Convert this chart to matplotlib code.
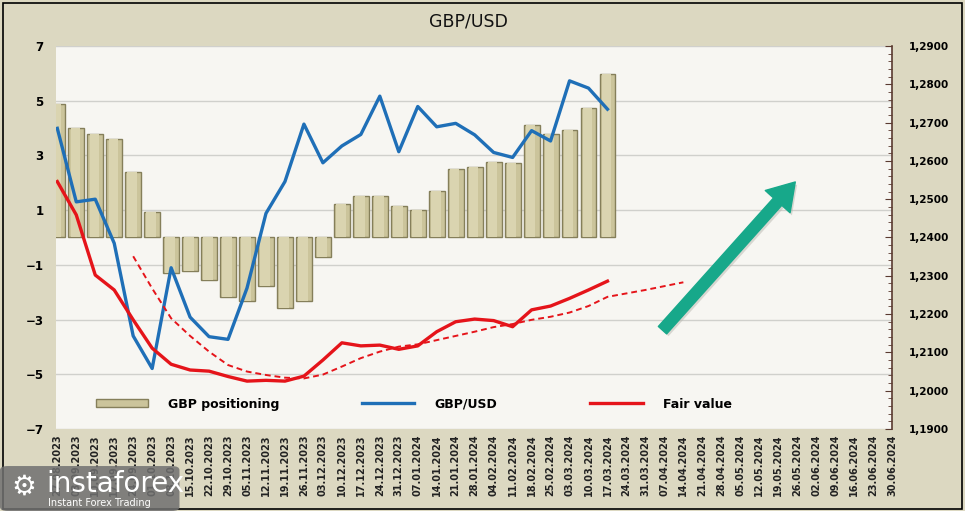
import matplotlib
matplotlib.use('Agg')
import matplotlib.pyplot as plt
import matplotlib.patches as patches
import matplotlib.ticker as mticker
from matplotlib.lines import Line2D
from matplotlib.legend import Legend
import numpy as np

# weekly categories
dates = ['27.08.2023', '03.09.2023', '10.09.2023', '17.09.2023', '24.09.2023', '01.10.2023',
         '08.10.2023', '15.10.2023', '22.10.2023', '29.10.2023', '05.11.2023', '12.11.2023',
         '19.11.2023', '26.11.2023', '03.12.2023', '10.12.2023', '17.12.2023', '24.12.2023',
         '31.12.2023', '07.01.2024', '14.01.2024', '21.01.2024', '28.01.2024', '04.02.2024',
         '11.02.2024', '18.02.2024', '25.02.2024', '03.03.2024', '10.03.2024', '17.03.2024',
         '24.03.2024', '31.03.2024', '07.04.2024', '14.04.2024', '21.04.2024', '28.04.2024',
         '05.05.2024', '12.05.2024', '19.05.2024', '26.05.2024', '02.06.2024', '09.06.2024',
         '16.06.2024', '23.06.2024', '30.06.2024']

# GBP net positioning, bn USD (left axis)
positioning = [4.88, 4.0, 3.78, 3.6, 2.41, 0.92, -1.28, -1.22, -1.56, -2.17, -2.31, -1.78,
               -2.56, -2.33, -0.71, 1.21, 1.53, 1.53, 1.14, 1.01, 1.71, 2.50, 2.57, 2.75,
               2.72, 4.11, 3.78, 3.94, 4.73, 5.96]

# GBP/USD weekly close (right axis)
gbpusd = [1.2685, 1.2493, 1.2500, 1.2385, 1.2143, 1.2058, 1.2321, 1.2192, 1.2141, 1.2134,
          1.2268, 1.2463, 1.2546, 1.2696, 1.2595, 1.2639, 1.2669, 1.2769, 1.2624, 1.2742,
          1.2689, 1.2698, 1.2668, 1.2622, 1.2609, 1.2679, 1.2652, 1.2809, 1.2790, 1.2735]

# fair value (right axis)
fair_value = [1.2546, 1.2459, 1.2302, 1.2263, 1.2185, 1.2111, 1.2069, 1.2054, 1.2051, 1.2037,
              1.2025, 1.2027, 1.2025, 1.2038, 1.2080, 1.2125, 1.2117, 1.2119, 1.2108, 1.2117,
              1.2154, 1.2180, 1.2187, 1.2183, 1.2167, 1.2211, 1.2221, 1.2241, 1.2263, 1.2286]

# fair value trend (dashed), starts at week 5
trend_start = 4
fair_trend = [1.2351, 1.2267, 1.2189, 1.2143, 1.2102, 1.2067, 1.2050, 1.2041, 1.2034, 1.2032,
              1.2042, 1.2063, 1.2085, 1.2102, 1.2115, 1.2121, 1.2132, 1.2143, 1.2154, 1.2166,
              1.2174, 1.2185, 1.2193, 1.2204, 1.2221, 1.2245, 1.2254, 1.2263, 1.2273, 1.2283]

legend_labels = ['GBP positioning', 'GBP/USD', 'Fair value']

BEIGE = '#DCD8C1'
PLOT_BG = '#F7F6F2'
BAR_FACE = '#CBC49B'
BAR_LIGHT = '#DAD4B0'
BAR_EDGE = '#857F5A'
BLUE = '#1F6FB7'
RED = '#E5141A'
TEAL = '#17A88A'

fig = plt.figure(figsize=(9.65, 5.11), dpi=100, facecolor=BEIGE)
ax = fig.add_axes([0.058, 0.1605, 0.8664, 0.7495])
ax.set_facecolor(PLOT_BG)

x = np.arange(len(dates))
xb = np.arange(len(positioning))

# bars, with a lighter inner strip for the bevel look
ax.bar(xb, positioning, width=0.84, color=BAR_FACE, edgecolor=BAR_EDGE, linewidth=1.0, zorder=2)
ax.bar(xb - 0.05, positioning, width=0.5, color=BAR_LIGHT, linewidth=0, zorder=2.1)

ax.set_ylim(-7, 7)
ax.set_yticks(np.arange(-7, 8, 2))
ax.set_xlim(-0.07, len(dates) - 1)
ax.grid(axis='y', color='#D0D0CC', linewidth=1.0, zorder=0)
ax.set_axisbelow(True)
for s in ax.spines.values():
    s.set_visible(False)
ax.tick_params(axis='y', length=0, pad=9, labelsize=8.5)
for lab in ax.get_yticklabels():
    lab.set_fontweight('bold')
ax.set_xticks(x)
ax.set_xticklabels(dates, rotation=90, fontsize=7, fontweight='bold', color='#222222')
ax.tick_params(axis='x', length=0, pad=4)

ax2 = ax.twinx()
ax2.set_ylim(1.19, 1.29)
ax2.plot(np.arange(len(gbpusd)), gbpusd, color=BLUE, linewidth=2.4, zorder=4)
ax2.plot(np.arange(len(fair_value)), fair_value, color=RED, linewidth=2.4, zorder=4)
ax2.plot(np.arange(trend_start, trend_start + len(fair_trend)), fair_trend, color=RED,
         linewidth=1.4, linestyle=(0, (3, 2)), zorder=4)
ax2.yaxis.set_major_locator(mticker.MultipleLocator(0.01))
ax2.yaxis.set_minor_locator(mticker.MultipleLocator(0.002))
ax2.yaxis.set_major_formatter(mticker.FuncFormatter(lambda v, p: f'{v:.4f}'.replace('.', ',')))
ax2.tick_params(axis='y', which='major', direction='in', length=5, pad=12, labelsize=7.5,
                color='#5A3A30')
ax2.tick_params(axis='y', which='minor', direction='in', length=3, color='#5A3A30')
for lab in ax2.get_yticklabels():
    lab.set_fontweight('bold')
for k, s in ax2.spines.items():
    s.set_visible(k == 'right')
ax2.spines['right'].set_color('#5A3A30')
ax2.spines['right'].set_linewidth(1.2)

# big green arrow (with a soft shadow)
ax2.annotate('', xy=(39.0, 1.2538), xytext=(32.0, 1.2152),
             arrowprops=dict(facecolor='#B8B8B0', edgecolor='none', width=8, headwidth=24,
                             headlength=19, shrink=0, alpha=0.5), zorder=4.9)
ax2.annotate('', xy=(38.9, 1.2545), xytext=(31.9, 1.2158),
             arrowprops=dict(facecolor=TEAL, edgecolor=TEAL, width=8, headwidth=24,
                             headlength=19, shrink=0, capstyle='round'), zorder=5)

# legend, one entry at a time to match the uneven spacing
handles = [patches.Patch(facecolor=BAR_FACE, edgecolor=BAR_EDGE, linewidth=1.0),
           Line2D([], [], color=BLUE, linewidth=2.4),
           Line2D([], [], color=RED, linewidth=2.4)]
anchors = [0.0478, 0.366, 0.639]
for h, lab, xa in zip(handles, legend_labels, anchors):
    leg = Legend(ax2, [h], [lab], loc='center left', bbox_to_anchor=(xa, 0.065), frameon=False,
                 prop={'size': 9, 'weight': 'bold'}, handlelength=4.2, handleheight=0.6,
                 handletextpad=1.6, borderpad=0, borderaxespad=0)
    ax2.add_artist(leg)

fig.text(0.485, 0.957, 'GBP/USD', ha='center', va='center', fontsize=12.5, color='#111111')

# outer frame
fig.patches.append(patches.Rectangle((0.003, 0.004), 0.994, 0.99, transform=fig.transFigure,
                                     fill=False, edgecolor='black', linewidth=1.2))

# watermark
fig.patches.append(patches.FancyBboxPatch((0.0, 0.0), 0.186, 0.088, transform=fig.transFigure,
                                          boxstyle='round,pad=0,rounding_size=0.008',
                                          facecolor='#707070', edgecolor='none', alpha=0.85))
fig.text(0.012, 0.047, '\u2699', fontsize=20, color='white', va='center', family='DejaVu Sans')
fig.text(0.048, 0.052, 'instaforex', fontsize=20, color='white', va='center')
fig.text(0.05, 0.016, 'Instant Forex Trading', fontsize=7, color='white', va='center')

fig.savefig('out.png', dpi=100, facecolor=BEIGE)
